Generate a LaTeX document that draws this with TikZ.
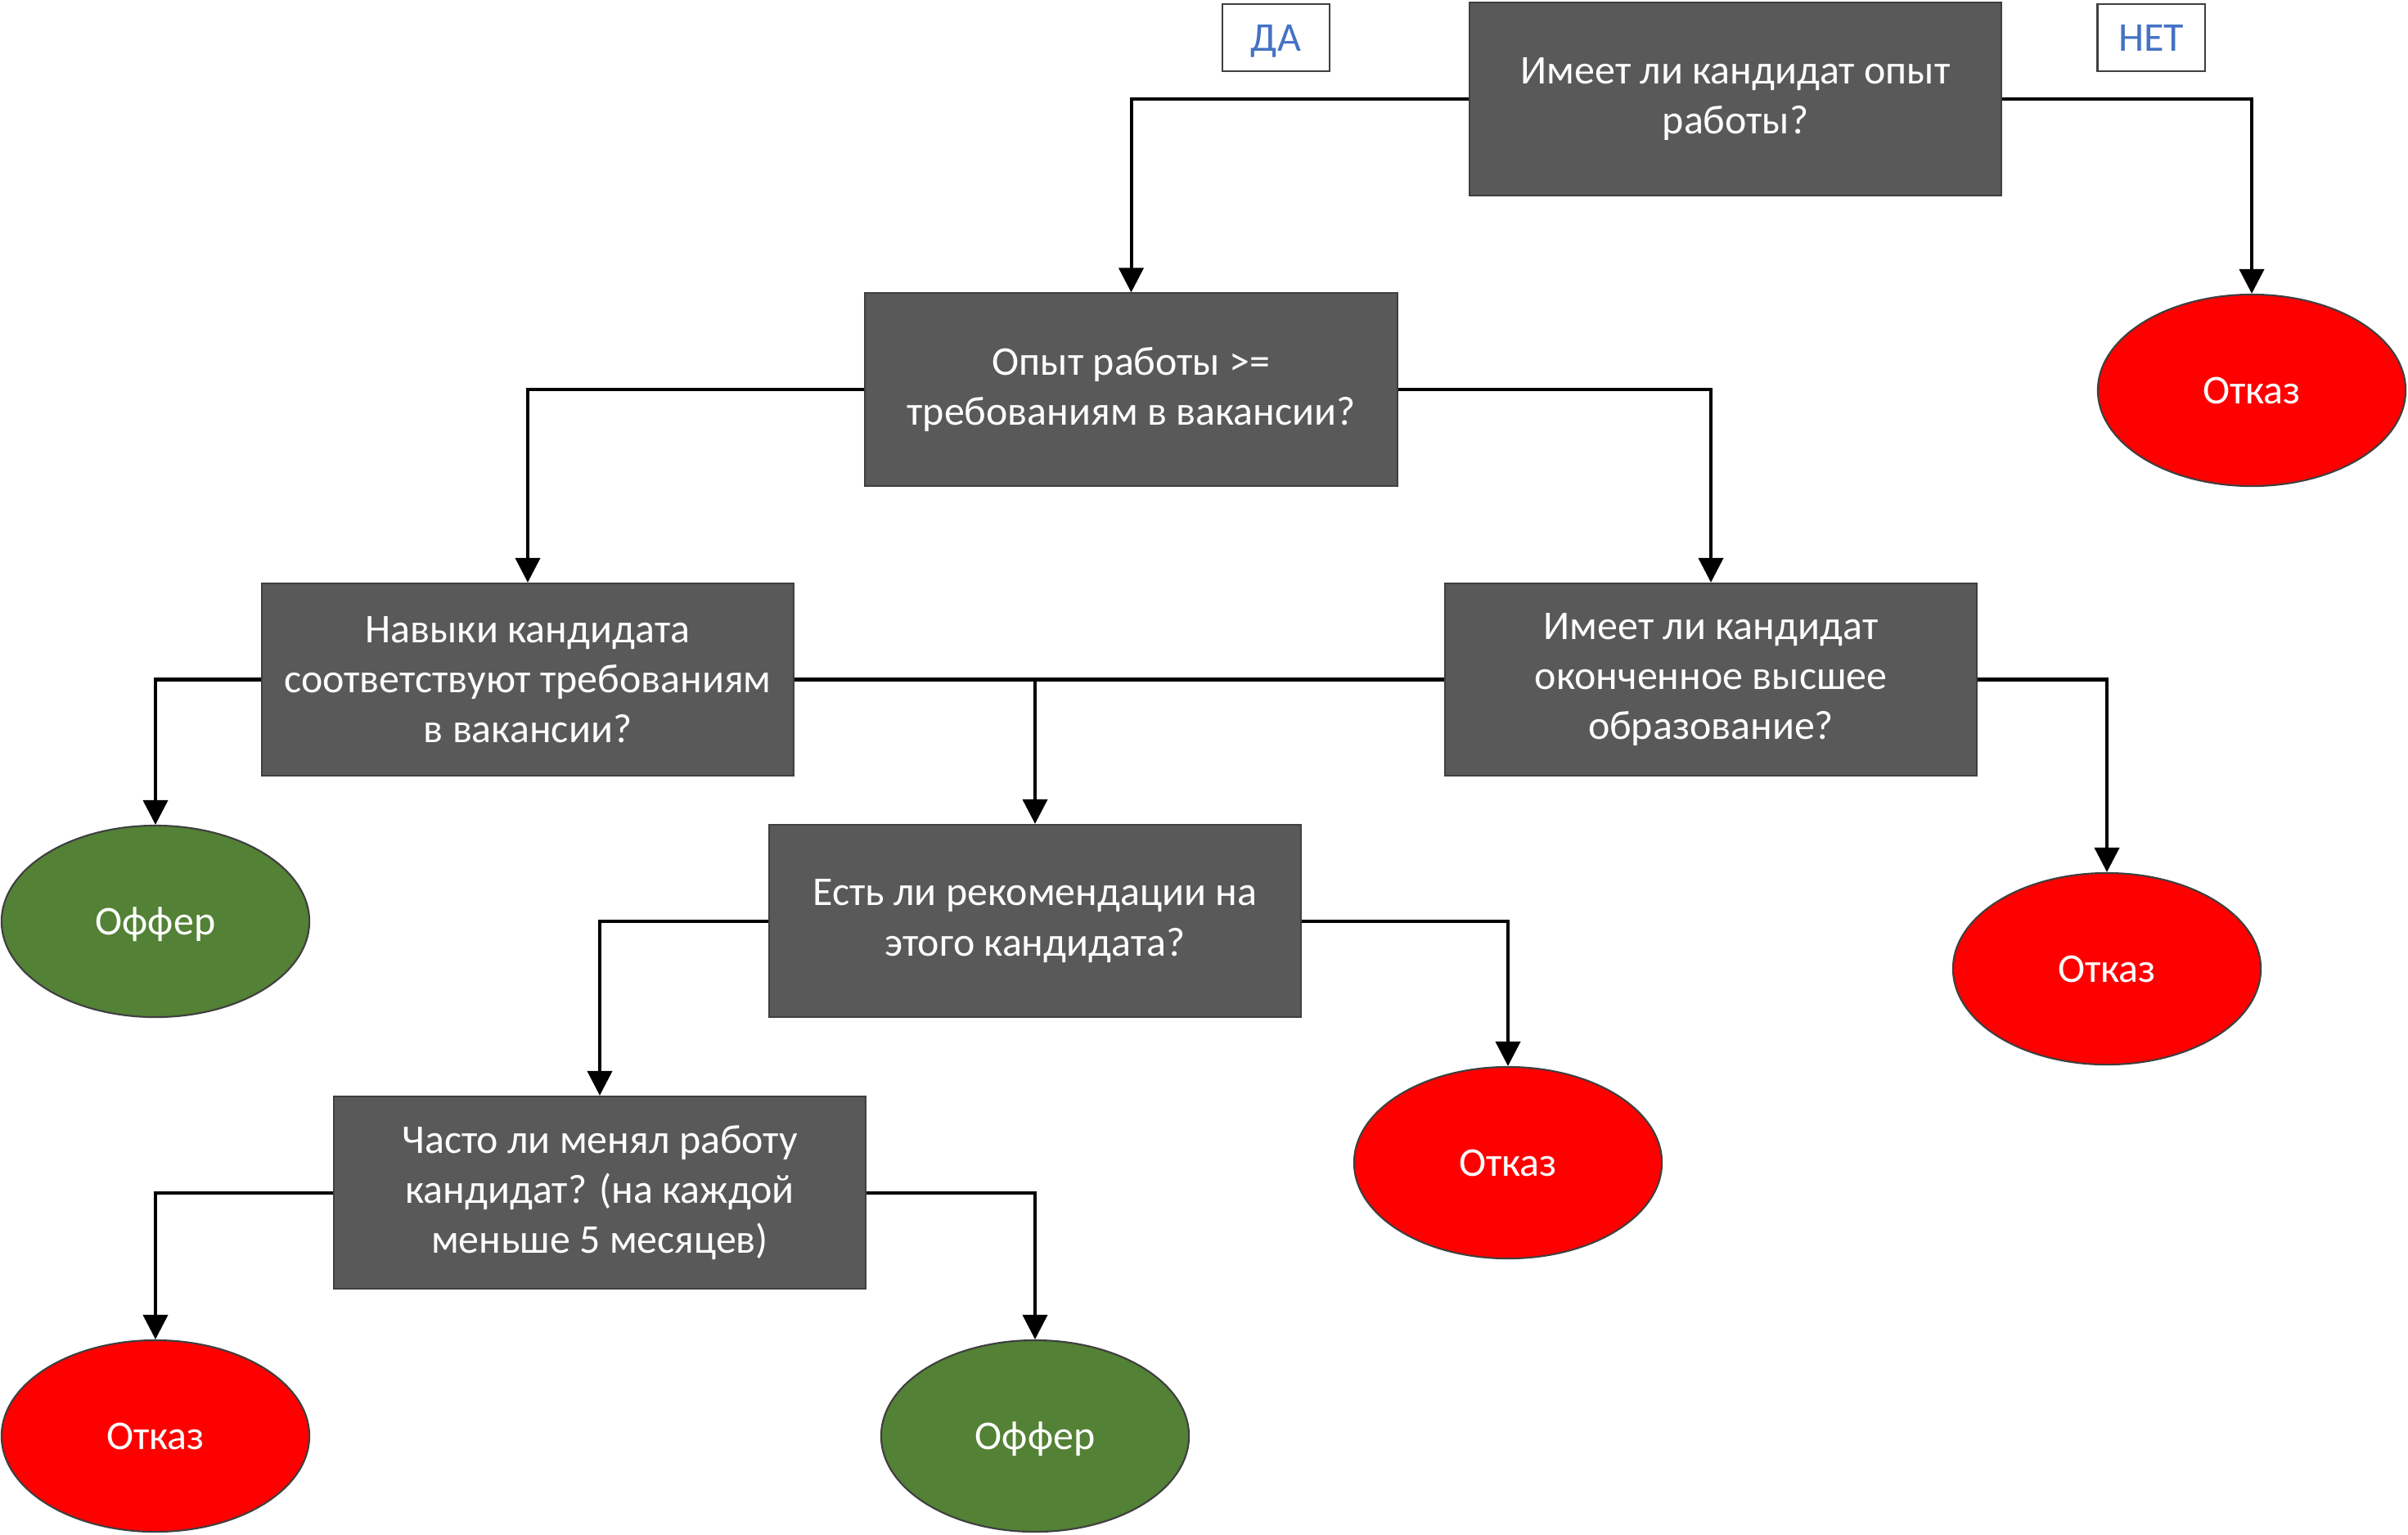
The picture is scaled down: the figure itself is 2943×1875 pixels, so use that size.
\documentclass[tikz,border=0pt]{standalone}
\usepackage{fontspec}
\setmainfont{Carlito}
\usetikzlibrary{arrows.meta,shapes.geometric}
\definecolor{boxgray}{HTML}{595959}
\definecolor{edgegray}{HTML}{3F3F3F}
\definecolor{redfill}{HTML}{FF0000}
\definecolor{greenfill}{HTML}{538135}
\definecolor{labelblue}{HTML}{4472C4}
\tikzset{
  boxtxt/.style={font=\fontsize{14.2}{17.4}\selectfont,
    execute at begin node={\rule{0pt}{14.4pt}},
    execute at end node={\rule[-0.2pt]{0pt}{0.2pt}}},
  shorttxt/.style={font=\fontsize{14.2}{17.4}\selectfont,
    execute at begin node={\rule{0pt}{12pt}},
    execute at end node={\rule[-2.6pt]{0pt}{2.6pt}}},
  qbox/.style={rectangle, draw=edgegray, line width=0.6pt, fill=boxgray, text=white,
    minimum width=6.5cm, minimum height=2.35cm, inner sep=0pt, align=center, boxtxt},
  endnode/.style={ellipse, draw=edgegray, line width=0.6pt, text=white,
    minimum width=3.76cm, minimum height=2.34cm, inner sep=0pt, shorttxt},
  rejectnode/.style={endnode, fill=redfill},
  offernode/.style={endnode, fill=greenfill},
  tag/.style={rectangle, draw=edgegray, line width=0.6pt, fill=white, text=labelblue,
    minimum width=1.31cm, minimum height=0.82cm, inner sep=0pt, shorttxt},
  flow/.style={draw=black, line width=1.15pt, -{Triangle[length=0.3cm,width=0.3cm]}},
  flowplain/.style={draw=black, line width=1.15pt},
}
\begin{document}
\begin{tikzpicture}[x=0.01cm, y=-0.01cm]
\useasboundingbox (0,0) rectangle (2943,1875);
% labels
\node[tag] (da) at (1559.5,46) {ДА};
\node[tag] (net) at (2629,46) {НЕТ};
% question boxes
\node[qbox] (q1) at (2121,121) {Имеет ли кандидат опыт\\работы?};
\node[qbox] (q2) at (1382.5,476) {Опыт работы >=\\требованиям в вакансии?};
\node[qbox] (q3) at (645,830.5) {Навыки кандидата\\соответствуют требованиям\\в вакансии?};
\node[qbox] (q4) at (2091,830.5) {Имеет ли кандидат\\оконченное высшее\\образование?};
\node[qbox] (q5) at (1265,1125.5) {Есть ли рекомендации на\\этого кандидата?};
\node[qbox] (q6) at (733,1457.5) {Часто ли менял работу\\кандидат? (на каждой\\меньше 5 месяцев)};
% outcomes
\node[rejectnode] (r1) at (2752,477) {Отказ};
\node[offernode] (o1) at (190,1126) {Оффер};
\node[rejectnode] (r2) at (2575,1184) {Отказ};
\node[rejectnode] (r3) at (1843,1421) {Отказ};
\node[rejectnode] (r4) at (190,1755) {Отказ};
\node[offernode] (o2) at (1265,1755) {Оффер};
% connectors
\draw[flow] (q1.west) -| (q2.north);
\draw[flow] (q1.east) -| (r1.north);
\draw[flow] (q2.west) -| (q3.north);
\draw[flow] (q2.east) -| (q4.north);
\draw[flow] (q3.west) -| (o1.north);
\coordinate (j) at (q5.north |- q3.east);
\draw[flowplain] (q3.east) -- (j);
\draw[flow] (q4.west) -| (q5.north);
\draw[flow] (q4.east) -| (r2.north);
\draw[flow] (q5.west) -| (q6.north);
\draw[flow] (q5.east) -| (r3.north);
\draw[flow] (q6.west) -| (r4.north);
\draw[flow] (q6.east) -| (o2.north);
\end{tikzpicture}
\end{document}
